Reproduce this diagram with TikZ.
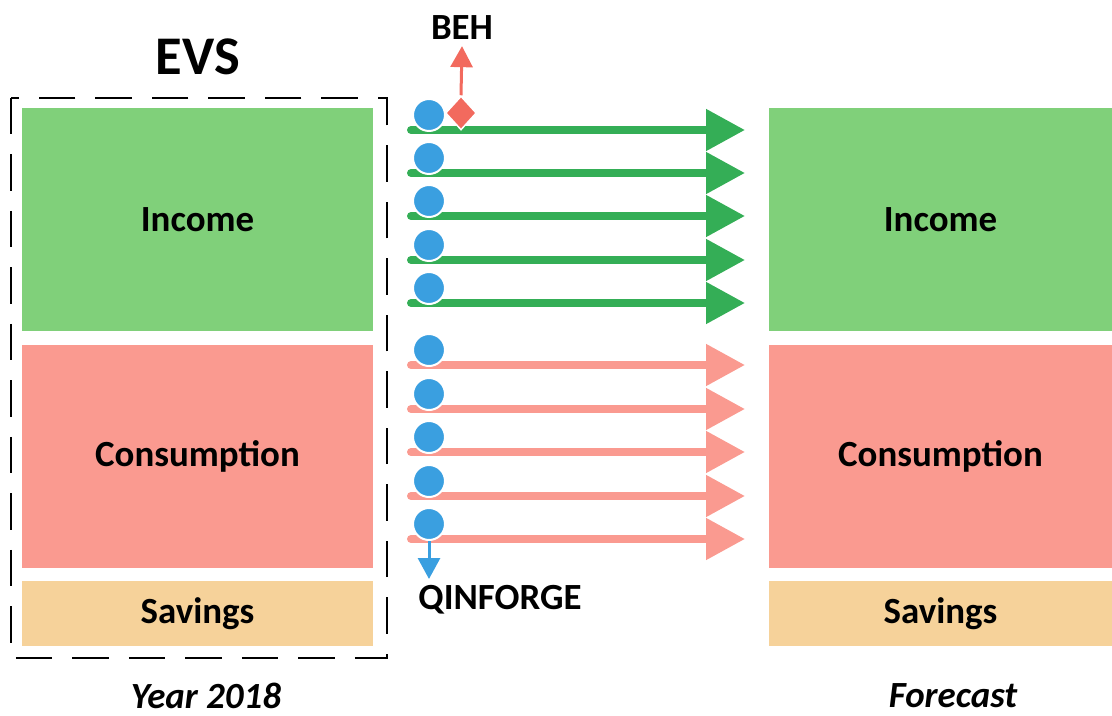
\documentclass[tikz,border=0pt]{standalone}
\usepackage{fontspec}
\setmainfont{Carlito}
\usetikzlibrary{arrows.meta,shapes.geometric}

\definecolor{incgreen}{HTML}{80D07A}
\definecolor{conpink}{HTML}{FA9A90}
\definecolor{savsand}{HTML}{F6D29A}
\definecolor{arrgreen}{HTML}{34AE56}
\definecolor{dotblue}{HTML}{3A9FE0}
\definecolor{behred}{HTML}{F26A5E}

\tikzset{
  block/.style={inner sep=0pt, font=\fontsize{21}{24}\selectfont\bfseries},
  flow/.style={line width=0.16cm, line cap=round, -{Triangle[length=0.78cm,width=0.8cm]}},
  dot/.style={circle, fill=dotblue, draw=white, line width=0.04cm, minimum size=0.64cm, inner sep=0pt},
  label/.style={font=\fontsize{21}{24}\selectfont\bfseries}
}

\begin{document}
\begin{tikzpicture}[x=0.02cm,y=-0.02cm]
    \useasboundingbox (0,0) rectangle (1112,716);
    % year 2018 side
    \node[font=\fontsize{31}{36}\selectfont\bfseries] (evs) at (198,57) {EVS};
    \draw[line width=0.055cm, dash pattern=on 0.73cm off 0.4cm] (11,98) rectangle (387,658);
    \node[block, fill=incgreen, minimum width=7.02cm, minimum height=4.46cm] (incL) at (197.5,219.5) {Income};
    \node[block, fill=conpink, minimum width=7.02cm, minimum height=4.46cm] (conL) at (197.5,456.5) {Consumption};
    \node[block, fill=savsand, minimum width=7.02cm, minimum height=1.3cm] (savL) at (197.5,613.5) {Savings};
    \node[block, font=\fontsize{21}{24}\selectfont\bfseries\itshape] (yr) at (206,696) {Year 2018};
    % forecast side
    \node[block, fill=incgreen, minimum width=6.86cm, minimum height=4.46cm] (incR) at (940.5,219.5) {Income};
    \node[block, fill=conpink, minimum width=6.86cm, minimum height=4.46cm] (conR) at (940.5,456.5) {Consumption};
    \node[block, fill=savsand, minimum width=6.86cm, minimum height=1.3cm] (savR) at (940.5,613.5) {Savings};
    \node[block, font=\fontsize{21}{24}\selectfont\bfseries\itshape] (fc) at (953,696) {Forecast};
    % arrows
    \foreach \i/\y in {1/130,2/173,3/216,4/260,5/303}{
        \coordinate (gs\i) at (411,\y);
        \coordinate (ge\i) at (745,\y);
        \draw[flow, arrgreen] (gs\i) -- (ge\i);
        \node[dot] (gd\i) at (429,\y-15) {};
    }
    \foreach \i/\y in {1/365,2/409,3/452,4/496,5/539}{
        \coordinate (ps\i) at (411,\y);
        \coordinate (pe\i) at (745,\y);
        \draw[flow, conpink] (ps\i) -- (pe\i);
        \node[dot] (pd\i) at (429,\y-15) {};
    }
    % BEH
    \node[diamond, fill=behred, draw=white, line width=0.03cm, minimum width=0.62cm, minimum height=0.68cm, inner sep=0pt] (dia) at (461,113) {};
    \node[label] (beh) at (462,28) {BEH};
    \draw[behred, line width=0.06cm, -{Triangle[length=0.42cm,width=0.44cm]}] (dia.north) -- (beh.south);
    % QINFORGE
    \node[label] (qin) at (500,600) {QINFORGE};
    \coordinate (qtip) at (429,579);
    \draw[dotblue, line width=0.06cm, -{Triangle[length=0.42cm,width=0.44cm]}] (pd5.south) -- (qtip);
\end{tikzpicture}
\end{document}
